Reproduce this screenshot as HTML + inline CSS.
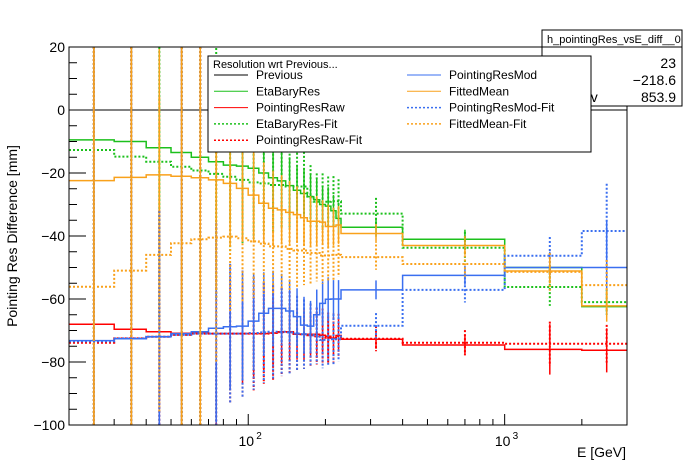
<!DOCTYPE html>
<html><head><meta charset="utf-8"><style>
html,body{margin:0;padding:0;background:#fff;width:696px;height:472px;overflow:hidden;}
svg{display:block;font-family:"Liberation Sans",Arial,sans-serif;}
</style></head><body>
<svg id="chart" width="696" height="472" viewBox="0 0 696 472">
<defs><clipPath id="fr"><rect x="69" y="47" width="558" height="378"/></clipPath></defs>
<rect x="0" y="0" width="696" height="472" fill="#fff"/>
<g id="marks" clip-path="url(#fr)"></g>
<rect x="69" y="47" width="558" height="378" fill="none" stroke="#000" stroke-width="1"/>
<g id="axes"></g>
<text x="0" y="0" transform="translate(17,236) rotate(-90)" text-anchor="middle" font-size="14">Pointing Res Difference [mm]</text>
<text x="626" y="457" text-anchor="end" font-size="14">E [GeV]</text>
<g>
<rect x="542" y="30" width="140" height="76" fill="#fff" stroke="#000" stroke-width="1"/>
<line x1="542" y1="47" x2="682" y2="47" stroke="#000"/>
<text x="547" y="43" font-size="11">h_pointingRes_vsE_diff__0</text>
<text x="548" y="68" font-size="14">Entries</text>
<text x="676" y="68" font-size="14" text-anchor="end">23</text>
<text x="548" y="85" font-size="14">Mean</text>
<text x="676" y="85" font-size="14" text-anchor="end">−218.6</text>
<text x="548" y="102" font-size="14">Std Dev</text>
<text x="676" y="102" font-size="14" text-anchor="end">853.9</text>
</g>
<g id="legend">
<rect x="208" y="56" width="383" height="96" fill="#fff" stroke="#000" stroke-width="1"/>
<text x="213" y="68" font-size="11">Resolution wrt Previous...</text>
</g>
</svg>
<script>
const edges = [20,30,40,50,60,70,80,90,100,110,120,130,140,150,160,170,180,190,200,210,220,230,400,1000,2000,3000];
const green = [-9.5,-10,-12,-13.5,-15,-16.4,-17.5,-17.8,-18.5,-20,-21.5,-22.5,-24,-25.5,-26.5,-27.5,-28.5,-30,-30.5,-32,-34.4,-37.2,-41,-50,-62.4];
const greenErr = [300,300,40,300,200,30,18,16,14,12,11,10,9,8,8,7,7,6,6,5,5,3,3,2,2];
const red = [-68,-69.6,-70.4,-70.9,-70.7,-71,-71,-71,-71,-71,-70.8,-70.4,-70.4,-71.2,-71.2,-71.2,-71.2,-71.5,-71.8,-72.4,-71.6,-72.8,-74.6,-76,-76.3];
const redErr = [300,300,30,300,300,30,18,16,14,12,11,10,9,8,8,7,7,6,6,5,5,3,3,8,7];
const greenFit = [-12.7,-14.8,-16.4,-18,-19.2,-20.3,-21.2,-22.2,-23,-23.3,-23.8,-23.8,-24.3,-24.3,-24.3,-27.5,-29.1,-29.1,-29.1,-29,-29,-32.9,-43.7,-56.2,-61];
const greenFitErr = [300,300,50,300,300,40,24,20,18,16,15,14,13,12,11,10,9,9,8,8,7,5,5,6,4];
const redFit = [-73.9,-72.5,-72,-71.4,-71,-71,-71,-71,-71,-71,-70.8,-70.5,-70.5,-71,-71.2,-71.5,-71.8,-72,-72.3,-72.6,-71.7,-72.6,-73.9,-74.2,-74.2];
const redFitErr = [300,300,40,300,300,35,22,20,18,16,15,14,13,12,11,10,9,9,8,8,7,4,4,7,6];
const blue = [-73.2,-72.6,-72,-71,-70.4,-69.3,-68.8,-68.6,-67,-64.5,-63,-63,-63.8,-65.6,-68.3,-68.6,-65,-61.4,-60.1,-60,-60,-57.1,-52.5,-50,-50];
const blueErr = [300,300,35,300,300,30,20,17,15,13,12,11,10,9,9,8,8,7,7,6,6,3,3,5,15];
const orange = [-22.4,-21.4,-20.6,-21,-21.5,-22.2,-23.3,-24.9,-27,-29.6,-31.2,-31.7,-32.5,-33.2,-34.2,-35.3,-35.3,-35.6,-37,-37,-36.5,-39.2,-43,-51.1,-62.2];
const orangeErr = [300,300,40,300,300,35,20,17,15,13,12,11,10,9,9,8,8,7,7,6,6,3,3,4,5];
const blueFit = [-73.4,-72.5,-72,-71.4,-71,-71,-71,-71,-70.8,-70.6,-70.4,-70.4,-70.6,-71,-71.2,-71.4,-71.6,-73,-73,-72.8,-72.8,-68.5,-57.1,-46.3,-38.4];
const blueFitErr = [300,300,40,300,300,35,22,20,18,16,15,14,13,12,11,10,9,9,8,8,7,4,4,6,15];
const orangeFit = [-56.1,-51,-46,-42.3,-41,-40.5,-40.2,-40.7,-41.7,-42.4,-43.3,-43.3,-44.1,-44.6,-44.6,-45.4,-45.4,-46.2,-46.2,-46,-46,-46.7,-48.9,-51.4,-55.6];
const orangeFitErr = [300,300,50,300,300,40,24,20,18,16,15,14,13,12,11,10,9,9,8,8,7,4,4,6,8];
const yTicks = [20,0,-20,-40,-60,-80,-100];
const xMajor = [100,1000];
const xMinor = [20,30,40,50,60,70,80,90,200,300,400,500,600,700,800,900,2000,3000];

const NS = "http://www.w3.org/2000/svg";
const X0=69,X1=627,Y0=425,Y1=47,XMIN=20,XMAX=3000,YMIN=-100,YMAX=20;
function xs(e){return X0+(Math.log10(e)-Math.log10(XMIN))/(Math.log10(XMAX)-Math.log10(XMIN))*(X1-X0);}
function ys(v){return Y0-(v-YMIN)/(YMAX-YMIN)*(Y0-Y1);}
function clampY(y){return Math.max(Y1,Math.min(Y0,y));}
function mk(tag,attrs,parent){const el=document.createElementNS(NS,tag);for(const k in attrs)el.setAttribute(k,attrs[k]);parent.appendChild(el);return el;}

const marks=document.getElementById('marks');
const axes=document.getElementById('axes');

const prev=mk('line',{x1:X0,x2:X1,y1:ys(0),y2:ys(0),stroke:'#000','stroke-width':1},marks);



const series=[
 {name:'eta-bary-res',vals:green,err:greenErr,col:'#1cc01c',dash:null},
 {name:'pointing-res-raw',vals:red,err:redErr,col:'#ff0000',dash:null},
 {name:'eta-bary-res-fit',vals:greenFit,err:greenFitErr,col:'#1cc01c',dash:'2,2'},
 {name:'pointing-res-raw-fit',vals:redFit,err:redFitErr,col:'#ff0000',dash:'2,2'},
 {name:'pointing-res-mod',vals:blue,err:blueErr,col:'#3a6ff0',dash:null},
 {name:'fitted-mean',vals:orange,err:orangeErr,col:'#f9a11b',dash:null},
 {name:'pointing-res-mod-fit',vals:blueFit,err:blueFitErr,col:'#3a6ff0',dash:'2,2'},
 {name:'fitted-mean-fit',vals:orangeFit,err:orangeFitErr,col:'#f9a11b',dash:'2,2'}
];
series.forEach(s=>{
  const g=mk('g',{},marks);
  
  
  let d='';
  s.vals.forEach((v,i)=>{
    const xa=xs(edges[i]),xb=xs(edges[i+1]),y=clampY(ys(v));
    d+=(i===0?'M':'L')+xa.toFixed(1)+','+y.toFixed(1)+'L'+xb.toFixed(1)+','+y.toFixed(1);
  });
  const p=mk('path',{d:d,fill:'none',stroke:s.col,'stroke-width':s.dash?2:1.5},g);
  if(s.dash)p.setAttribute('stroke-dasharray',s.dash);
  
  
  s.vals.forEach((v,i)=>{
    const xc=xs((edges[i]+edges[i+1])/2);
    const l=mk('line',{x1:xc,x2:xc,y1:clampY(ys(v+s.err[i])),y2:clampY(ys(v-s.err[i])),stroke:s.col,'stroke-width':s.dash?2:1.5},g);
    if(s.dash)l.setAttribute('stroke-dasharray',s.dash);
    
    
  });
});

yTicks.forEach((t,i)=>{
  const y=ys(t);
  const tk=mk('line',{x1:X0,x2:X0+17,y1:y,y2:y,stroke:'#000'},axes);
  
  
  const tx=mk('text',{x:X0-4,y:y+5,'text-anchor':'end','font-size':14},axes);
  tx.textContent=t<0?'−'+(-t):String(t);
  
  
  if(i<yTicks.length-1){
    for(let k=1;k<4;k++){
      const ym=ys(t-k*5);
      const m=mk('line',{x1:X0,x2:X0+8,y1:ym,y2:ym,stroke:'#000'},axes);
      
      
    }
  }
});
xMajor.forEach((t,i)=>{
  const x=xs(t);
  const tk=mk('line',{x1:x,x2:x,y1:Y0,y2:Y0-11,stroke:'#000'},axes);
  
  
  const tx=mk('text',{x:x-2,y:Y0+21,'text-anchor':'middle','font-size':14},axes);
  tx.textContent='10';
  
  
  const sp=mk('text',{x:x+8,y:Y0+14,'font-size':10},axes);
  sp.textContent=String(Math.round(Math.log10(t)));
  
  
});
xMinor.forEach(t=>{
  const x=xs(t);
  const tk=mk('line',{x1:x,x2:x,y1:Y0,y2:Y0-6,stroke:'#000'},axes);
  
  
});

const legend=document.getElementById('legend');
const entries=[
 ['Previous','#000',null,0,0],['EtaBaryRes','#1cc01c',null,0,1],['PointingResRaw','#ff0000',null,0,2],
 ['EtaBaryRes-Fit','#1cc01c','2,2',0,3],['PointingResRaw-Fit','#ff0000','2,2',0,4],
 ['PointingResMod','#3a6ff0',null,1,0],['FittedMean','#f9a11b',null,1,1],
 ['PointingResMod-Fit','#3a6ff0','2,2',1,2],['FittedMean-Fit','#f9a11b','2,2',1,3]
];
entries.forEach(e=>{
  const lx=e[3]===0?214:407, tx=e[3]===0?256:449, y=79+e[4]*16.3;
  const g=mk('g',{},legend);
  
  
  const l=mk('line',{x1:lx,x2:lx+34,y1:y-4,y2:y-4,stroke:e[1],'stroke-width':e[2]?1.5:1},g);
  if(e[2])l.setAttribute('stroke-dasharray',e[2]);
  const t=mk('text',{x:tx,y:y,'font-size':12},g);
  t.textContent=e[0];
});
</script>
</body></html>
